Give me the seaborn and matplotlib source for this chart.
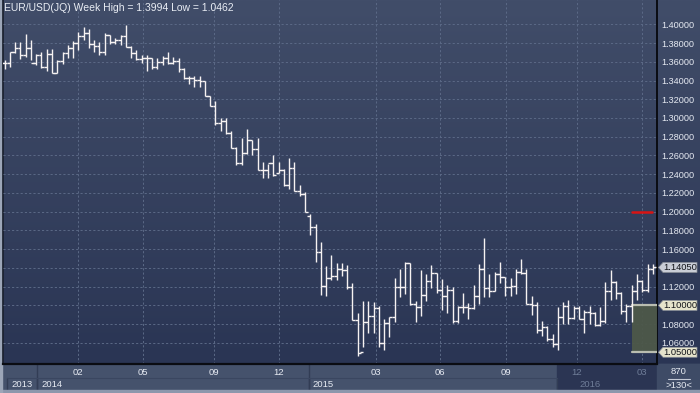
import numpy as np
import matplotlib
matplotlib.use("Agg")
import matplotlib.pyplot as plt
import seaborn as sns
from matplotlib.patches import Rectangle, Polygon
from matplotlib.colors import LinearSegmentedColormap
import matplotlib.transforms as mtransforms

# ---------------- data (weekly OHLC, EUR/USD) ----------------
opens = [1.3585, 1.3590, 1.3700, 1.3745, 1.3675, 1.3745,
         1.3590, 1.3670, 1.3540, 1.3680, 1.3485, 1.3605, 1.3690, 1.3745, 1.3800, 1.3875,
         1.3910, 1.3795, 1.3770, 1.3705, 1.3885, 1.3815, 1.3830, 1.3870, 1.3755, 1.3695,
         1.3630, 1.3640, 1.3640, 1.3540, 1.3600, 1.3645, 1.3590, 1.3605, 1.3525, 1.3430,
         1.3425, 1.3410, 1.3395, 1.3240, 1.3130, 1.2950, 1.2965, 1.2835, 1.2685, 1.2520,
         1.2625, 1.2765, 1.2670, 1.2450, 1.2450, 1.2525, 1.2410, 1.2450, 1.2285, 1.2465,
         1.2225, 1.2185,
         1.1950, 1.1840, 1.1565, 1.1205, 1.1290, 1.1315, 1.1390, 1.1380, 1.1195, 1.0845,
         1.0500, 1.0820, 1.0890, 1.0970, 1.0600, 1.0810, 1.0875, 1.1200, 1.1200, 1.1450,
         1.1010, 1.0985, 1.1110, 1.1260, 1.1350, 1.1165, 1.1100, 1.1165, 1.0830, 1.0985,
         1.0985, 1.0970, 1.1105, 1.1385, 1.1185, 1.1150, 1.1340, 1.1300, 1.1200, 1.1210,
         1.1360, 1.1350, 1.1015, 1.1005, 1.0740, 1.0770, 1.0645, 1.0590, 1.0880, 1.0990,
         1.0865, 1.0970,
         1.0860, 1.0925, 1.0915, 1.0795, 1.0830, 1.1155, 1.1255, 1.1130, 1.0935, 1.0995,
         1.1150, 1.1265, 1.1165, 1.1390]
highs = [1.3620, 1.3705, 1.3810, 1.3812, 1.3893, 1.3830,
         1.3685, 1.3705, 1.3740, 1.3740, 1.3620, 1.3705, 1.3775, 1.3825, 1.3915, 1.3967,
         1.3945, 1.3835, 1.3810, 1.3905, 1.3890, 1.3855, 1.3890, 1.3994, 1.3770, 1.3730,
         1.3670, 1.3670, 1.3645, 1.3645, 1.3660, 1.3700, 1.3650, 1.3640, 1.3530, 1.3445,
         1.3445, 1.3445, 1.3395, 1.3240, 1.3180, 1.2995, 1.3000, 1.2860, 1.2690, 1.2790,
         1.2885, 1.2770, 1.2790, 1.2535, 1.2510, 1.2600, 1.2530, 1.2455, 1.2570, 1.2530,
         1.2285, 1.2215,
         1.1975, 1.1870, 1.1680, 1.1425, 1.1535, 1.1450, 1.1450, 1.1430, 1.1240, 1.0915,
         1.1050, 1.1050, 1.1035, 1.0990, 1.0850, 1.0880, 1.1290, 1.1390, 1.1465, 1.1450,
         1.1050, 1.1380, 1.1340, 1.1435, 1.1350, 1.1280, 1.1215, 1.1200, 1.0990, 1.1130,
         1.1030, 1.1215, 1.1440, 1.1715, 1.1330, 1.1360, 1.1460, 1.1300, 1.1290, 1.1390,
         1.1495, 1.1390, 1.1095, 1.1040, 1.0830, 1.0780, 1.0690, 1.0980, 1.1040, 1.1060,
         1.0990, 1.0995,
         1.0950, 1.0990, 1.0925, 1.0985, 1.1245, 1.1375, 1.1260, 1.1140, 1.1010, 1.1220,
         1.1340, 1.1275, 1.1440, 1.1440]
lows = [1.3520, 1.3545, 1.3695, 1.3625, 1.3655, 1.3615,
        1.3570, 1.3530, 1.3505, 1.3477, 1.3477, 1.3580, 1.3640, 1.3640, 1.3730, 1.3835,
        1.3750, 1.3705, 1.3670, 1.3675, 1.3790, 1.3785, 1.3775, 1.3755, 1.3645, 1.3615,
        1.3585, 1.3505, 1.3525, 1.3525, 1.3570, 1.3580, 1.3575, 1.3490, 1.3420, 1.3365,
        1.3335, 1.3330, 1.3240, 1.3130, 1.2920, 1.2860, 1.2830, 1.2680, 1.2500, 1.2500,
        1.2620, 1.2610, 1.2440, 1.2360, 1.2360, 1.2385, 1.2410, 1.2270, 1.2245, 1.2220,
        1.2165, 1.1995,
        1.1755, 1.1460, 1.1115, 1.1100, 1.1270, 1.1270, 1.1315, 1.1175, 1.0840, 1.0462,
        1.0560, 1.0710, 1.0710, 1.0560, 1.0520, 1.0660, 1.0820, 1.1090, 1.1120, 1.1000,
        1.0820, 1.0885, 1.1050, 1.1190, 1.1130, 1.0955, 1.0915, 1.0810, 1.0810, 1.0920,
        1.0850, 1.0960, 1.1020, 1.1085, 1.1085, 1.1150, 1.1240, 1.1105, 1.1100, 1.1120,
        1.1340, 1.1015, 1.0900, 1.0705, 1.0675, 1.0615, 1.0560, 1.0525, 1.0800, 1.0800,
        1.0850, 1.0850,
        1.0710, 1.0805, 1.0780, 1.0780, 1.0810, 1.1060, 1.1065, 1.0910, 1.0820, 1.0825,
        1.1055, 1.1145, 1.1140, 1.1330]
closes = [1.3590, 1.3700, 1.3745, 1.3675, 1.3745, 1.3590,
          1.3670, 1.3540, 1.3680, 1.3485, 1.3605, 1.3690, 1.3745, 1.3800, 1.3875, 1.3910,
          1.3795, 1.3770, 1.3705, 1.3885, 1.3815, 1.3830, 1.3870, 1.3755, 1.3695, 1.3630,
          1.3640, 1.3640, 1.3540, 1.3600, 1.3645, 1.3590, 1.3605, 1.3525, 1.3430, 1.3425,
          1.3410, 1.3395, 1.3240, 1.3130, 1.2950, 1.2965, 1.2835, 1.2685, 1.2520, 1.2625,
          1.2765, 1.2670, 1.2450, 1.2450, 1.2525, 1.2390, 1.2450, 1.2285, 1.2465, 1.2225,
          1.2185, 1.2000,
          1.1840, 1.1565, 1.1205, 1.1290, 1.1315, 1.1390, 1.1380, 1.1195, 1.0845, 1.0495,
          1.0820, 1.0890, 1.0970, 1.0600, 1.0810, 1.0875, 1.1200, 1.1200, 1.1450, 1.1010,
          1.0985, 1.1110, 1.1260, 1.1350, 1.1165, 1.1100, 1.1165, 1.0830, 1.0985, 1.0985,
          1.0970, 1.1105, 1.1385, 1.1185, 1.1150, 1.1340, 1.1300, 1.1200, 1.1210, 1.1360,
          1.1350, 1.1015, 1.1005, 1.0740, 1.0770, 1.0645, 1.0590, 1.0880, 1.0990, 1.0865,
          1.0970, 1.0860,
          1.0925, 1.0915, 1.0795, 1.0830, 1.1155, 1.1255, 1.1130, 1.0935, 1.0995, 1.1150,
          1.1265, 1.1165, 1.1390, 1.1405]

month_labels = ["02", "05", "09", "12", "03", "06", "09", "12", "03"]
year_labels = ["2013", "2014", "2015", "2016"]
price_ticks = [1.40, 1.38, 1.36, 1.34, 1.32, 1.30, 1.28, 1.26, 1.24, 1.22,
               1.20, 1.18, 1.16, 1.14, 1.12, 1.10, 1.08, 1.06]
last_price = 1.14050
zone_high = 1.10000
zone_low = 1.05000
alert_level = 1.20
title_text = "EUR/USD(JQ) Week High = 1.3994 Low = 1.0462"
counter_top = "870"
counter_bottom = ">130<"

# ---------------- layout ----------------
W, H = 700, 393
PX0, PXS = 4.6, 5.27          # pixel of first bar, pixels per bar
AX_L, AX_R, AX_B = 3, 657, 364  # axes box in pixels (top = 0)
month_px = [78, 143, 214, 279, 376, 440, 506, 577, 642]
year_px = [11, 41, 312, 579]
year_bounds = [7, 37, 309, 557]
dark_from = 557

sns.set_style("dark")
plt.rcParams['font.family'] = ['Liberation Sans', 'DejaVu Sans']

fig = plt.figure(figsize=(7.0, 3.93), dpi=100)

# background (full figure, pixel coordinates)
bg = fig.add_axes([0, 0, 1, 1], zorder=0)
bg.set_xlim(0, W); bg.set_ylim(H, 0); bg.axis('off')
grad = np.linspace(0, 1, 256).reshape(-1, 1)
cmap = LinearSegmentedColormap.from_list('bg', ['#414d69', '#2a3554'])
bg.imshow(grad, extent=[0, W, AX_B, 0], aspect='auto', cmap=cmap, zorder=0)
# bottom band
band = '#45526c'
bg.add_patch(Rectangle((0, AX_B), W, H - AX_B, color=band, zorder=1))
bg.add_patch(Rectangle((dark_from, AX_B + 1), AX_R - dark_from, 26, color='#2b3553', zorder=2))
bg.add_patch(Rectangle((AX_R, AX_B), W - AX_R, H - AX_B, color='#3e4b66', zorder=2))
for xb in year_bounds:
    bg.plot([xb, xb], [AX_B + 14, AX_B + 26], color='#323d55', lw=1, zorder=3)
bg.plot([year_bounds[1], year_bounds[1]], [AX_B, AX_B + 26], color='#323d55', lw=1, zorder=3)
bg.plot([year_bounds[2], year_bounds[2]], [AX_B, AX_B + 26], color='#323d55', lw=1, zorder=3)
bg.plot([year_bounds[0], dark_from], [AX_B + 14, AX_B + 14], color='#3a4660', lw=0.8, zorder=3)
bg.add_patch(Rectangle((0, H - 3), W, 3, color='#8c97ac', zorder=4))
bg.add_patch(Rectangle((0, 0), 2, H, color='#9ca6b8', zorder=4))
bg.plot([2.5, 2.5], [0, AX_B], color='#161c2a', lw=1.2, zorder=4)
for lab, xp in zip(year_labels, year_px):
    col = '#6f7d98' if xp >= dark_from else '#e6eaf2'
    bg.text(xp, AX_B + 20.5, lab, ha='left', va='center', fontsize=6.8, color=col, zorder=5)
bg.text(679, 372, counter_top, ha='center', va='center', fontsize=6.8, color='#e6eaf2', zorder=5)
bg.plot([668, 690], [378.5, 378.5], color='#c4cad6', lw=0.8, zorder=5)
bg.text(679, 385.5, counter_bottom, ha='center', va='center', fontsize=6.8, color='#e6eaf2', zorder=5)

# main price axes
ax = fig.add_axes([AX_L / W, (H - AX_B) / H, (AX_R - AX_L) / W, AX_B / H], zorder=2)
ax.patch.set_alpha(0)
x0 = (AX_L - PX0) / PXS
x1 = (AX_R - PX0) / PXS
y_top = 1.40 + 24.3 / 937.0
y_bot = 1.40 - (AX_B - 24.3) / 937.0
ax.set_xlim(x0, x1)
ax.set_ylim(y_bot, y_top)

n = len(closes)
xs = np.arange(n)
bar_col = '#f6f2f2'
ax.vlines(xs, lows, highs, color=bar_col, lw=1.0, zorder=4)
ax.hlines(opens, xs - 0.55, xs, color=bar_col, lw=1.0, zorder=4)
ax.hlines(closes, xs, xs + 0.55, color=bar_col, lw=1.0, zorder=4)

# grid / ticks
tick_pos = [(p - PX0) / PXS for p in month_px]
ax.set_xticks(tick_pos)
ax.set_xticklabels(month_labels)
ax.set_yticks(price_ticks)
ylabels = ["" if (abs(t - 1.14) < 1e-9 or abs(t - zone_high) < 1e-9) else f"{t:.5f}" for t in price_ticks]
ax.set_yticklabels(ylabels)
ax.yaxis.tick_right()
ax.grid(True, color='#5b6986', ls=(0, (2.2, 2.2)), lw=0.7)
ax.tick_params(axis='x', length=0, pad=3.0, labelsize=6.8, labelcolor='#e6eaf2')
ax.tick_params(axis='y', length=0, pad=3.0, labelsize=6.6, labelcolor='#e6eaf2')
for lbl, xp in zip(ax.get_xticklabels(), month_px):
    if xp >= dark_from:
        lbl.set_color('#6f7d98')
for side in ['top', 'left']:
    ax.spines[side].set_visible(False)
ax.spines['right'].set_color('#0a0c12'); ax.spines['right'].set_linewidth(1.4)
ax.spines['bottom'].set_color('#0a0c12'); ax.spines['bottom'].set_linewidth(1.6)

# zone box and alert line
zx0 = (632 - AX_L) / (AX_R - AX_L)
trans = mtransforms.blended_transform_factory(ax.transAxes, ax.transData)
ax.add_patch(Rectangle((zx0, zone_low), 1 - zx0, zone_high - zone_low, transform=trans,
                       facecolor='#4d5849', edgecolor='none', alpha=0.95, zorder=3))
ax.plot([zx0, 1], [zone_high, zone_high], transform=trans, color='#b9bdb0', lw=1.6, zorder=3)
ax.plot([zx0, 1], [zone_low, zone_low], transform=trans, color='#b9bdb0', lw=1.6, zorder=3)
ax.plot([zx0, (652.3 - AX_L) / (AX_R - AX_L)], [alert_level, alert_level], transform=trans,
        color='#d81414', lw=1.8, zorder=3)

# price tags on the right
ov = fig.add_axes([0, 0, 1, 1], zorder=5)
ov.set_xlim(0, W); ov.set_ylim(H, 0); ov.axis('off'); ov.patch.set_alpha(0)

def ypix(p):
    return H - ax.transData.transform((0, p))[1]

for val, fc in [(last_price, '#c9cdd6'), (zone_high, '#e6e4cc'), (zone_low, '#e6e4cc')]:
    yy = ypix(val)
    poly = Polygon([(658.5, yy), (663, yy - 5), (697, yy - 5), (697, yy + 5), (663, yy + 5)],
                   closed=True, facecolor=fc, edgecolor='#8a8f98', lw=0.5)
    ov.add_patch(poly)
    ov.text(680.5, yy + 0.3, f"{val:.5f}", ha='center', va='center', fontsize=6.7, color='#111318')

ov.text(3.5, 8, title_text, ha='left', va='center', fontsize=7.5, color='#e9edf4')

fig.savefig('out.png', dpi=100)
